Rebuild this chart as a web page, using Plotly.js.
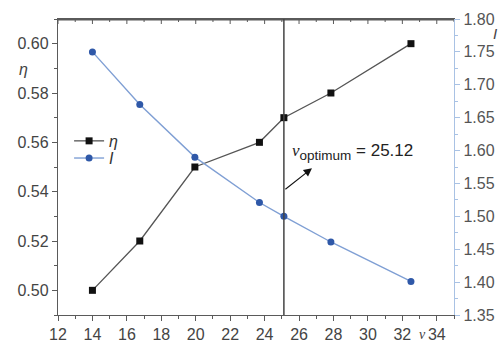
<!DOCTYPE html>
<html>
<head>
<meta charset="utf-8">
<script src="https://cdn.plot.ly/plotly-3.0.1.min.js"></script>
<style>html,body{margin:0;padding:0;background:#fff;}#chart{width:504px;height:343px;}</style>
</head>
<body>
<div id="chart"></div>
<script>
// Data
const speedNu = [14.0, 16.75, 19.95, 23.7, 25.12, 27.85, 32.5];
const etaValues = [0.500, 0.520, 0.550, 0.560, 0.570, 0.580, 0.600];
const iValues = [1.750, 1.670, 1.590, 1.521, 1.500, 1.461, 1.401];
const nuOptimum = 25.12;
const seriesNames = ['η', 'I'];
const xTicks = [12, 14, 16, 18, 20, 22, 24, 26, 28, 30, 32, 34];
const xMinorTicks = [13, 15, 17, 19, 21, 23, 25, 27, 29, 31, 33, 35];
const etaTicks = [0.50, 0.52, 0.54, 0.56, 0.58, 0.60];
const iTicks = [1.35, 1.40, 1.45, 1.50, 1.55, 1.60, 1.65, 1.70, 1.75, 1.80];

const FONT = 'Liberation Sans, Arial, Helvetica, sans-serif';
const SERIF = 'Liberation Serif, Times New Roman, serif';
const AXC = '#5a5a5a';
const etaTrace = {
  x: speedNu, y: etaValues, name: seriesNames[0], type: 'scatter', mode: 'lines+markers',
  xaxis: 'x', yaxis: 'y', legend: 'legend',
  line: {color: '#555555', width: 1.3},
  marker: {symbol: 'square', size: 7, color: '#111111'}
};
const iTrace = {
  x: speedNu, y: iValues, name: seriesNames[1], type: 'scatter', mode: 'lines+markers',
  xaxis: 'x', yaxis: 'y2', legend: 'legend2',
  line: {color: '#7f9fd4', width: 1.4},
  marker: {symbol: 'circle', size: 7, color: '#2f58a8'}
};

const legendCommon = {xanchor: 'left', yanchor: 'middle', bgcolor: 'rgba(0,0,0,0)', borderwidth: 0,
  font: {family: FONT, size: 16, color: '#333333', style: 'italic'}};

// top frame line and inward top ticks (placed on the x scale from the tick arrays)
const frameShapes = [
  {type: 'line', xref: 'paper', yref: 'paper', ysizemode: 'pixel', yanchor: 1, x0: 0, x1: 1, y0: -0.5, y1: -0.5,
   layer: 'above', line: {color: AXC, width: 2}}
];
xTicks.forEach(t => frameShapes.push({type: 'line', xref: 'x', yref: 'paper', ysizemode: 'pixel', yanchor: 1,
  x0: t, x1: t, y0: 0, y1: -5, line: {color: AXC, width: 1}}));
xMinorTicks.forEach(t => frameShapes.push({type: 'line', xref: 'x', yref: 'paper', ysizemode: 'pixel', yanchor: 1,
  x0: t, x1: t, y0: 0, y1: -3, line: {color: AXC, width: 1}}));

const layout = {
  width: 504, height: 343,
  margin: {l: 58, r: 50, t: 19, b: 28},
  paper_bgcolor: '#ffffff', plot_bgcolor: '#ffffff',
  font: {family: FONT, size: 16, color: '#444444'},
  showlegend: true,
  legend: Object.assign({x: 0.028, y: 0.588}, legendCommon),
  legend2: Object.assign({x: 0.028, y: 0.530}, legendCommon),
  xaxis: {
    range: [12, 35], tickmode: 'array', tickvals: xTicks, ticktext: xTicks.map(String),
    showgrid: false, zeroline: false, showline: true, mirror: true, linecolor: AXC, linewidth: 1.2,
    ticks: 'outside', ticklen: 5, tickcolor: AXC, tickwidth: 1,
    minor: {dtick: 1, tick0: 12, ticks: 'outside', ticklen: 3, tickcolor: AXC, showgrid: false},
    tickfont: {family: FONT, size: 16, color: '#444444'}
  },
  yaxis: {
    range: [0.49, 0.61], tickmode: 'array', tickvals: etaTicks, ticktext: etaTicks.map(v => v.toFixed(2)),
    showgrid: false, zeroline: false, showline: true, linecolor: AXC, linewidth: 1.2,
    ticks: 'outside', ticklen: 5, tickcolor: AXC,
    minor: {dtick: 0.01, tick0: 0.50, ticks: 'outside', ticklen: 3, tickcolor: AXC, showgrid: false},
    tickfont: {family: FONT, size: 16, color: '#444444'}
  },
  yaxis2: {
    overlaying: 'y', side: 'right', anchor: 'x', range: [1.35, 1.80],
    tickmode: 'array', tickvals: iTicks, ticktext: iTicks.map(v => v.toFixed(2)),
    showgrid: false, zeroline: false, showline: true, linecolor: '#a9c2e4', linewidth: 1.2,
    ticks: 'outside', ticklen: 5, tickcolor: '#a9c2e4',
    minor: {dtick: 0.025, tick0: 1.35, ticks: 'outside', ticklen: 3, tickcolor: '#a9c2e4', showgrid: false},
    tickfont: {family: FONT, size: 16, color: '#555555'}
  },
  shapes: frameShapes.concat([
    {type: 'line', xref: 'x', yref: 'paper', x0: nuOptimum, x1: nuOptimum, y0: 0, y1: 1,
     line: {color: '#444444', width: 1.5}}
  ]),
  annotations: [
    {xref: 'paper', yref: 'paper', x: -0.103, y: 0.865, text: 'η', showarrow: false,
     font: {family: FONT, size: 16, color: '#444444', style: 'italic'}},
    {xref: 'paper', yref: 'paper', x: 1.103, y: 0.95, text: 'I', showarrow: false, xanchor: 'center', yanchor: 'middle',
     font: {family: FONT, size: 15, color: '#444444', style: 'italic'}},
    {xref: 'paper', yref: 'paper', x: 0.935, y: -0.065, text: 'ν', showarrow: false, yanchor: 'middle',
     font: {family: SERIF, size: 14, color: '#444444', style: 'italic'}},
    {xref: 'x', yref: 'y', x: 25.45, y: 0.556, xanchor: 'left', yanchor: 'middle',
     text: '<span style="font-family:Liberation Serif;font-style:italic;font-size:17px">ν</span><sub><span style="font-size:13.5px">optimum</span></sub> = 25.12',
     showarrow: false,
     font: {family: FONT, size: 17, color: '#222222'}},
    {xref: 'x', yref: 'y', x: 26.75, y: 0.5495, axref: 'x', ayref: 'y', ax: nuOptimum, ay: 0.5405,
     text: '', showarrow: true, arrowhead: 2, arrowsize: 1.5, arrowwidth: 1.1, arrowcolor: '#111111', standoff: 0, startstandoff: 0}
  ]
};

Plotly.newPlot('chart', [etaTrace, iTrace], layout, {staticPlot: true, displayModeBar: false});
</script>
</body>
</html>
